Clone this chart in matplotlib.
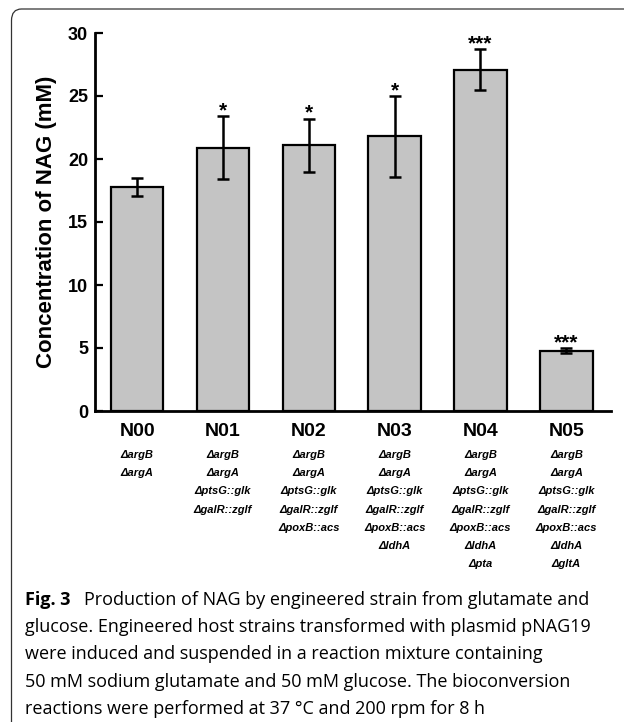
import matplotlib

matplotlib.use("Agg")
import matplotlib.pyplot as plt
from matplotlib.patches import FancyBboxPatch

# --- data --------------------------------------------------------------------
strains = ["N00", "N01", "N02", "N03", "N04", "N05"]
nag_mM = [17.8, 20.9, 21.1, 21.8, 27.1, 4.8]
nag_err = [0.7, 2.5, 2.1, 3.2, 1.6, 0.2]
signif = ["", "*", "*", "*", "***", "***"]
genotypes = [
    ["ΔargB", "ΔargA"],
    ["ΔargB", "ΔargA", "ΔptsG::glk", "ΔgalR::zglf"],
    ["ΔargB", "ΔargA", "ΔptsG::glk", "ΔgalR::zglf", "ΔpoxB::acs"],
    ["ΔargB", "ΔargA", "ΔptsG::glk", "ΔgalR::zglf", "ΔpoxB::acs", "ΔldhA"],
    ["ΔargB", "ΔargA", "ΔptsG::glk", "ΔgalR::zglf", "ΔpoxB::acs", "ΔldhA", "Δpta"],
    ["ΔargB", "ΔargA", "ΔptsG::glk", "ΔgalR::zglf", "ΔpoxB::acs", "ΔldhA", "ΔgltA"],
]
yticks = [0, 5, 10, 15, 20, 25, 30]
caption_head = "Fig. 3"
caption_lines = [
    "Production of NAG by engineered strain from glutamate and",
    "glucose. Engineered host strains transformed with plasmid pNAG19",
    "were induced and suspended in a reaction mixture containing",
    "50 mM sodium glutamate and 50 mM glucose. The bioconversion",
    "reactions were performed at 37 °C and 200 rpm for 8 h",
]

W, H = 624, 722
PX = 72 / 100  # points per pixel at dpi=100

plt.rcParams["font.family"] = ["Liberation Sans", "DejaVu Sans"]

fig = plt.figure(figsize=(W / 100, H / 100), dpi=100)

# rounded frame, open at right / bottom (cropped in the original)
frame = FancyBboxPatch((11.5 / W, -0.05), 1.2, 1 - 9 / H + 0.05,
                       boxstyle="round,pad=0,rounding_size=0.016",
                       transform=fig.transFigure, fill=False,
                       edgecolor="#333333", linewidth=0.9, clip_on=False)
fig.patches.append(frame)

ax = fig.add_axes([95 / W, 1 - 411 / H, 516 / W, 378 / H])
x = list(range(len(strains)))
ax.bar(x, nag_mM, width=0.61, color="#c4c4c4", edgecolor="black",
       linewidth=1.6, zorder=2)
ax.errorbar(x, nag_mM, yerr=nag_err, fmt="none", ecolor="black",
            elinewidth=1.8, capsize=4, capthick=1.8, zorder=3)

for xi, v, e, s in zip(x, nag_mM, nag_err, signif):
    if s:
        ax.annotate(s, (xi, v + e), xytext=(0, -3), textcoords="offset points",
                    ha="center", va="bottom", fontsize=15, fontweight="bold")

ax.set_xlim(-0.49, 5.52)
ax.set_ylim(0, 30)
ax.set_yticks(yticks)
ax.set_xticks([])
ax.tick_params(axis="y", direction="in", length=6, width=1.6, pad=5,
               labelsize=13)
for lab in ax.get_yticklabels():
    lab.set_fontweight("bold")
for side in ("top", "right"):
    ax.spines[side].set_visible(False)
for side in ("left", "bottom"):
    ax.spines[side].set_linewidth(2.0)
ax.set_ylabel("Concentration of NAG (mM)", fontsize=16, fontweight="bold",
              labelpad=8)

# strain names and genotypes under each bar
for xi, name, genes in zip(x, strains, genotypes):
    ax.annotate(name, (xi, 0), xytext=(0, -21 * PX), textcoords="offset points",
                ha="center", va="center", fontsize=14, fontweight="bold",
                annotation_clip=False)
    for k, g in enumerate(genes):
        ax.annotate(g, (xi, 0), xytext=(0, -(44 + 18.2 * k) * PX),
                    textcoords="offset points", ha="center", va="center",
                    fontsize=8, fontweight="bold", fontstyle="italic",
                    annotation_clip=False)

# caption
cap_font = ["Open Sans", "DejaVu Sans"]
cap_size = 13.0
cap_x, cap_y0, cap_dy = 25, 605, 27.2
head = fig.text(cap_x / W, 1 - cap_y0 / H, caption_head, fontsize=cap_size,
                fontweight="bold", family=cap_font, va="baseline")
fig.canvas.draw()
bb = head.get_window_extent()
fig.text((bb.x1 + 14) / W, 1 - cap_y0 / H, caption_lines[0], fontsize=cap_size,
         family=cap_font, va="baseline")
for k, line in enumerate(caption_lines[1:], start=1):
    fig.text(cap_x / W, 1 - (cap_y0 + cap_dy * k) / H, line, fontsize=cap_size,
             family=cap_font, va="baseline")

fig.savefig("out.png", dpi=100)
